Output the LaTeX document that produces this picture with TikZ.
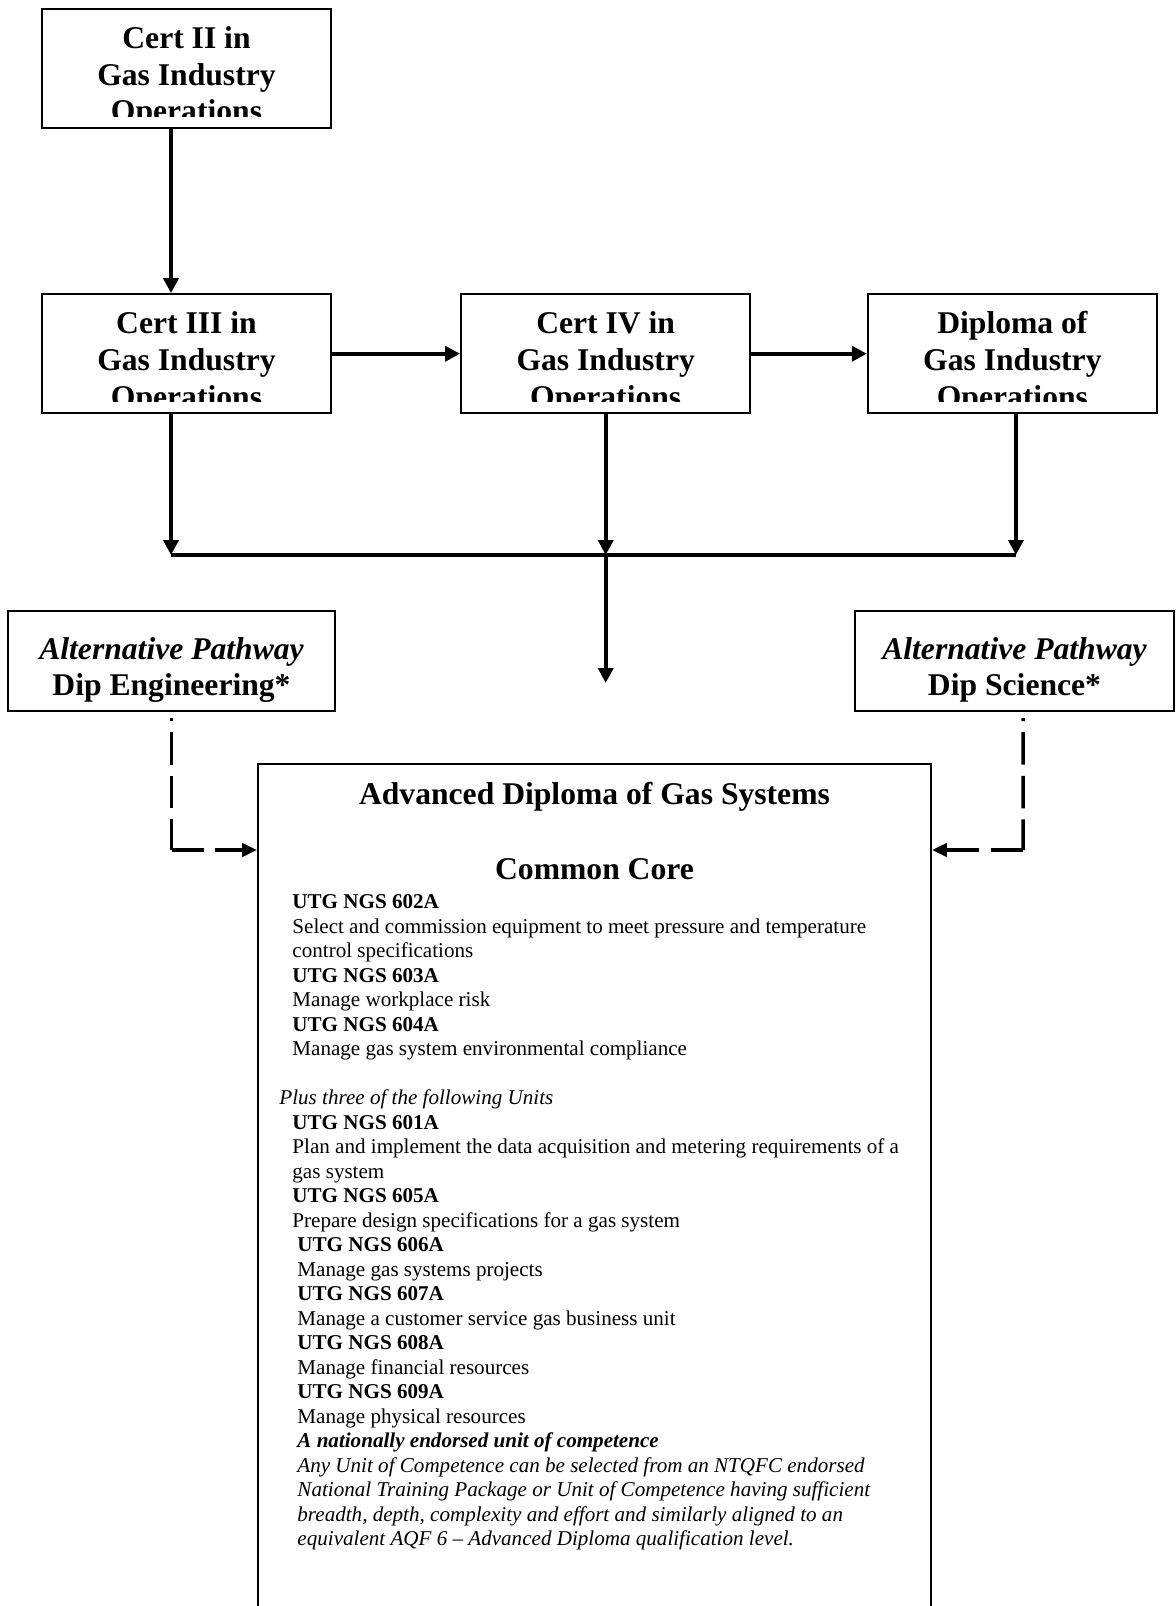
\documentclass[tikz,border=0pt]{standalone}
\usepackage{fontspec}
\setmainfont{Liberation Serif}
\usetikzlibrary{arrows.meta,positioning}
\newcommand{\unitgap}{\hspace*{0.26cm}}
\newcommand{\unitgapb}{\hspace*{0.36cm}}
\tikzset{
  gasbox/.style={draw,line width=1.3pt,minimum width=5.78cm,minimum height=2.38cm,inner sep=0pt},
  gastext/.style={font=\bfseries\fontsize{18}{20.8}\selectfont,align=center,anchor=base,inner sep=0pt},
  altbox/.style={draw,line width=1.3pt,minimum height=2cm,inner sep=0pt},
  alttext/.style={font=\bfseries\fontsize{18}{20.8}\selectfont,align=center,anchor=base,inner sep=0pt},
  advbox/.style={draw,line width=1.1pt,minimum width=13.46cm,minimum height=17.52cm,inner sep=0pt},
  advhead/.style={font=\bfseries\fontsize{18}{20.8}\selectfont,anchor=base,inner sep=0pt},
  advbody/.style={font=\fontsize{12}{13.94}\selectfont,align=left,anchor=base west,inner sep=0pt},
  gasflow/.style={-{Triangle[length=8.5pt,width=8.5pt]},line width=2.2pt},
  gasalt/.style={line width=2pt,dash pattern=on 18.5pt off 6.3pt},
}
\begin{document}
\begin{tikzpicture}[x=0.02cm,y=-0.02cm]
\useasboundingbox (0,0) rectangle (1176,1606);
% qualification ladder
\node[gasbox] (cert2) at (186.5,68.5) {};
\node[gasbox,below=3.28cm of cert2] (cert3) {};
\node[gasbox,right=2.56cm of cert3] (cert4) {};
\node[gasbox,right=2.31cm of cert4] (dip) {};
\foreach \qual/\qname in {cert2/Cert II in,cert3/Cert III in,cert4/Cert IV in,dip/Diploma of}{
  \begin{scope}
    \clip ([yshift=0.26cm]\qual.south west) rectangle (\qual.north east);
    \node[gastext] (\qual-txt) at ([yshift=-2.28cm]\qual.north) {\qname\\Gas Industry\\Operations};
  \end{scope}
}
\coordinate (joinLevel) at (0,555);
\coordinate (dropL) at ([xshift=-0.31cm]cert3.south);
\coordinate (dropR) at ([xshift=0.07cm]dip.south);
\coordinate (joinL) at (dropL |- joinLevel);
\coordinate (joinM) at (cert4.south |- joinLevel);
\coordinate (joinR) at (dropR |- joinLevel);
\coordinate (joinOut) at ([yshift=-2.56cm]joinM);
\draw[gasflow] ([xshift=-0.31cm]cert2.south) -- ([xshift=-0.31cm]cert3.north);
\draw[gasflow] (cert3) -- (cert4);
\draw[gasflow] (cert4) -- (dip);
\draw[gasflow] (dropL) -- (joinL);
\draw[gasflow] (cert4.south) -- (joinM);
\draw[gasflow] (dropR) -- (joinR);
\draw[line width=2.2pt] (joinL) -- (joinR);
\draw[gasflow] (joinM) -- (joinOut);
% alternative pathways
\node[altbox,minimum width=6.54cm] (altEng) at (171.5,661) {};
\node[altbox,minimum width=6.38cm] (altSci) at (1014.5,661) {};
\node[alttext] (altEng-txt) at ([yshift=-1.72cm]altEng.north) {{\itshape Alternative Pathway}\\Dip Engineering*};
\node[alttext] (altSci-txt) at ([yshift=-1.72cm]altSci.north) {{\itshape Alternative Pathway}\\Dip Science*};
% advanced diploma
\node[advbox] (adv) at (594.5,1202) {};
\node[advhead] (adv-title) at ([yshift=-0.82cm]adv.north) {Advanced Diploma of Gas Systems};
\node[advhead] (adv-core) at ([yshift=-2.32cm]adv.north) {Common Core};
\node[advbody] (adv-units) at ([xshift=0.44cm,yshift=-15.654cm]adv.north west) {%
\unitgap\textbf{UTG NGS 602A}\\
\unitgap Select and commission equipment to meet pressure and temperature\\
\unitgap control specifications\\
\unitgap\textbf{UTG NGS 603A}\\
\unitgap Manage workplace risk\\
\unitgap\textbf{UTG NGS 604A}\\
\unitgap Manage gas system environmental compliance\\
\mbox{}\\
\textit{Plus three of the following Units}\\
\unitgap\textbf{UTG NGS 601A}\\
\unitgap Plan and implement the data acquisition and metering requirements of a\\
\unitgap gas system\\
\unitgap\textbf{UTG NGS 605A}\\
\unitgap Prepare design specifications for a gas system\\
\unitgapb\textbf{UTG NGS 606A}\\
\unitgapb Manage gas systems projects\\
\unitgapb\textbf{UTG NGS 607A}\\
\unitgapb Manage a customer service gas business unit\\
\unitgapb\textbf{UTG NGS 608A}\\
\unitgapb Manage financial resources\\
\unitgapb\textbf{UTG NGS 609A}\\
\unitgapb Manage physical resources\\
\unitgapb\textbf{\textit{A nationally endorsed unit of competence}}\\
\unitgapb\textit{Any Unit of Competence can be selected from an NTQFC endorsed}\\
\unitgapb\textit{National Training Package or Unit of Competence having sufficient}\\
\unitgapb\textit{breadth, depth, complexity and effort and similarly aligned to an}\\
\unitgapb\textit{equivalent AQF 6 -- Advanced Diploma qualification level.}};
% dashed pathways into the advanced diploma
\coordinate (bendE) at (171.5,850);
\coordinate (bendS) at (1023,850);
\draw[gasalt,dash phase=16.8pt] ([yshift=-0.12cm]altEng.south) -- (bendE);
\draw[gasalt,-{Triangle[length=8.5pt,width=7.5pt]}] (bendE) -- (bendE -| adv.west);
\draw[gasalt,dash phase=16.8pt] ([xshift=0.17cm,yshift=-0.12cm]altSci.south) -- (bendS);
\draw[gasalt,-{Triangle[length=8.5pt,width=7.5pt]}] (bendS) -- (bendS -| adv.east);
\end{tikzpicture}
\end{document}
